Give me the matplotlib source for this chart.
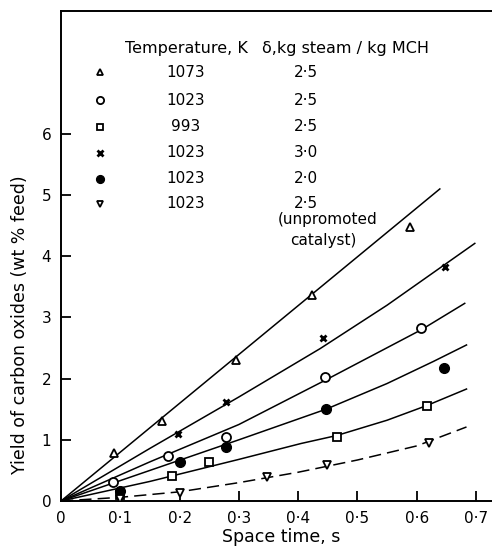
import numpy as np
import matplotlib
matplotlib.use("Agg")
import matplotlib.pyplot as plt

plt.rcParams['font.family'] = ['DejaVu Sans']

# measured points (space time s, yield wt % feed)
tri_x = [0.09, 0.17, 0.295, 0.423, 0.589]
tri_y = [0.78, 1.30, 2.31, 3.37, 4.48]
cross_x = [0.198, 0.279, 0.442, 0.648]
cross_y = [1.09, 1.62, 2.67, 3.83]
circ_x = [0.088, 0.181, 0.279, 0.445, 0.608]
circ_y = [0.31, 0.74, 1.04, 2.03, 2.82]
fill_x = [0.10, 0.20, 0.279, 0.447, 0.646]
fill_y = [0.17, 0.63, 0.89, 1.51, 2.17]
sq_x = [0.10, 0.187, 0.25, 0.465, 0.617]
sq_y = [0.10, 0.41, 0.63, 1.05, 1.56]
inv_x = [0.10, 0.20, 0.347, 0.448, 0.62]
inv_y = [0.04, 0.13, 0.40, 0.59, 0.94]

# fitted curves
tri_cx = [0, 0.639]
tri_cy = [0, 5.10]
cross_cx = [0, 0.15, 0.30, 0.437, 0.55, 0.698]
cross_cy = [0, 0.86, 1.70, 2.49, 3.20, 4.21]
circ_cx = [0, 0.15, 0.30, 0.445, 0.608, 0.681]
circ_cy = [0, 0.64, 1.25, 1.97, 2.80, 3.23]
fill_cx = [0, 0.15, 0.30, 0.447, 0.55, 0.628, 0.684]
fill_cy = [0, 0.50, 1.00, 1.50, 1.92, 2.28, 2.55]
sq_cx = [0, 0.15, 0.30, 0.405, 0.465, 0.55, 0.617, 0.684]
sq_cy = [0, 0.32, 0.68, 0.94, 1.07, 1.32, 1.56, 1.83]
inv_cx = [0, 0.1, 0.2, 0.3, 0.4, 0.5, 0.6, 0.684]
inv_cy = [0, 0.06, 0.15, 0.30, 0.47, 0.67, 0.90, 1.21]

temps = ['1073', '1023', '993', '1023', '1023', '1023']
deltas = ['2·5', '2·5', '2·5', '3·0', '2·0', '2·5']

xticks = [0, 0.1, 0.2, 0.3, 0.4, 0.5, 0.6, 0.7]
xlabels = ['0', '0·1', '0·2', '0·3', '0·4', '0·5', '0·6', '0·7']
yticks = [0, 1, 2, 3, 4, 5, 6]

fig = plt.figure(figsize=(4.92, 5.55), dpi=100)
ax = fig.add_axes([0.124, 0.0973, 0.876, 0.882])

lw = 1.1
for cx, cy in [(tri_cx, tri_cy), (cross_cx, cross_cy), (circ_cx, circ_cy),
               (fill_cx, fill_cy), (sq_cx, sq_cy)]:
    ax.plot(cx, cy, color='black', lw=lw, zorder=2)
ax.plot(inv_cx, inv_cy, color='black', lw=lw, dashes=(8, 4), zorder=2)

open_kw = dict(ls='none', mfc='white', mec='black', mew=1.3, zorder=3)
styles = [
    (tri_x, tri_y, dict(marker='^', ms=6, **open_kw)),
    (circ_x, circ_y, dict(marker='o', ms=6.5, **open_kw)),
    (sq_x, sq_y, dict(marker='s', ms=5.5, **open_kw)),
    (cross_x, cross_y, dict(marker='x', ms=5, ls='none', color='black', mew=2, zorder=3)),
    (fill_x, fill_y, dict(marker='o', ms=7, ls='none', color='black', zorder=3)),
    (inv_x, inv_y, dict(marker='v', ms=6, **open_kw)),
]
for x, y, kw in styles:
    ax.plot(x, y, **kw)

# legend table inside the axes
fs = 11
ax.text(0.211, 7.40, 'Temperature, K', ha='center', va='center', fontsize=11.5)
ax.text(0.339, 7.40, 'δ,kg steam / kg MCH', ha='left', va='center', fontsize=11.5)
row_y = [7.01, 6.55, 6.12, 5.69, 5.27, 4.86]
for (x, y, kw), t, d, ry in zip(styles, temps, deltas, row_y):
    kw2 = dict(kw)
    kw2['ms'] = kw['ms'] * 0.8
    ax.plot([0.066], [ry], **kw2)
    ax.text(0.211, ry, t, ha='center', va='center', fontsize=fs)
    ax.text(0.413, ry, d, ha='center', va='center', fontsize=fs)
ax.text(0.45, 4.60, '(unpromoted', ha='center', va='center', fontsize=fs)
ax.text(0.443, 4.25, 'catalyst)', ha='center', va='center', fontsize=fs)

ax.set_xlim(0, 0.727)
ax.set_ylim(0, 8)
ax.set_xticks(xticks)
ax.set_xticklabels(xlabels)
ax.set_yticks(yticks)
ax.tick_params(direction='in', length=7.5, width=1.3, labelsize=fs, pad=7)
ax.spines['right'].set_visible(False)
for s in ['left', 'bottom', 'top']:
    ax.spines[s].set_linewidth(1.4)

ax.set_xlabel('Space time, s', fontsize=12.5)
ax.set_ylabel('Yield of carbon oxides (wt % feed)', fontsize=12.5)
ax.xaxis.set_label_coords(0.51, -0.055)
ax.yaxis.set_label_coords(-0.075, 0.36)

fig.savefig('out.png', dpi=100)
